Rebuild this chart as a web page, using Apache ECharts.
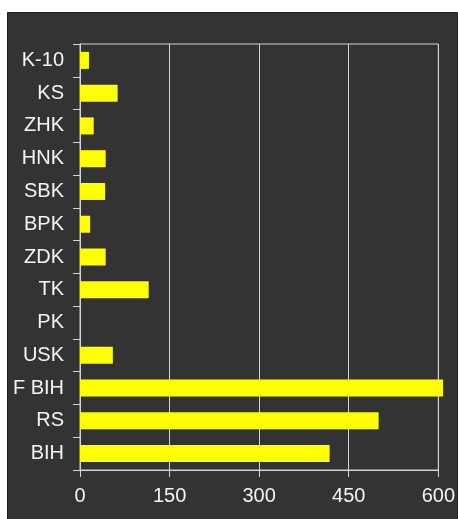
<!DOCTYPE html>
<html>
<head>
<meta charset="utf-8">
<script src="https://cdn.jsdelivr.net/npm/echarts@6/dist/echarts.min.js"></script>
<style>
  html, body { margin: 0; padding: 0; background: #fff; }
  #chart { width: 458px; height: 519px; }
</style>
</head>
<body>
<div id="chart"></div>
<script>
// categories, top to bottom
const categories = ['K-10', 'KS', 'ZHK', 'HNK', 'SBK', 'BPK', 'ZDK', 'TK', 'PK', 'USK', 'F BIH', 'RS', 'BIH']
const values = [15, 63, 23, 43, 42, 17, 43, 115, 0, 55, 608, 500, 418]
const xTicks = [0, 150, 300, 450, 600]

const chart = echarts.init(document.getElementById('chart'))

const lineColor = '#d4d4d4'
const textStyle = { color: '#f4f4f4', fontSize: 20, fontFamily: 'Liberation Sans, Arial, sans-serif' }

const option = {
  backgroundColor: '#ffffff',
  animation: false,
  graphic: {
    elements: [{
      type: 'rect',
      z: -10,
      shape: { x: 7.5, y: 12.5, width: 450, height: 510 },
      style: { fill: '#333333', stroke: '#1e1e1e', lineWidth: 1 }
    }]
  },
  grid: {
    left: 80,
    right: 18,
    top: 44,
    bottom: 49,
    show: true,
    borderColor: lineColor,
    borderWidth: 1,
    backgroundColor: 'transparent'
  },
  xAxis: {
    type: 'value',
    min: xTicks[0],
    max: xTicks[xTicks.length - 1],
    interval: 150,
    axisLine: { show: true, lineStyle: { color: lineColor } },
    axisTick: { show: true, length: 7, lineStyle: { color: lineColor } },
    axisLabel: { ...textStyle, margin: 16 },
    splitLine: { show: true, lineStyle: { color: lineColor, width: 1 } }
  },
  yAxis: {
    type: 'category',
    inverse: true,
    data: categories,
    axisLine: { show: true, lineStyle: { color: lineColor } },
    axisTick: { show: true, length: 7, lineStyle: { color: lineColor } },
    axisLabel: { ...textStyle, margin: 16 }
  },
  series: [
    {
      type: 'bar',
      data: values,
      barWidth: 17,
      clip: false,
      itemStyle: { color: '#ffff00' }
    }
  ]
}

chart.setOption(option)
</script>
</body>
</html>
